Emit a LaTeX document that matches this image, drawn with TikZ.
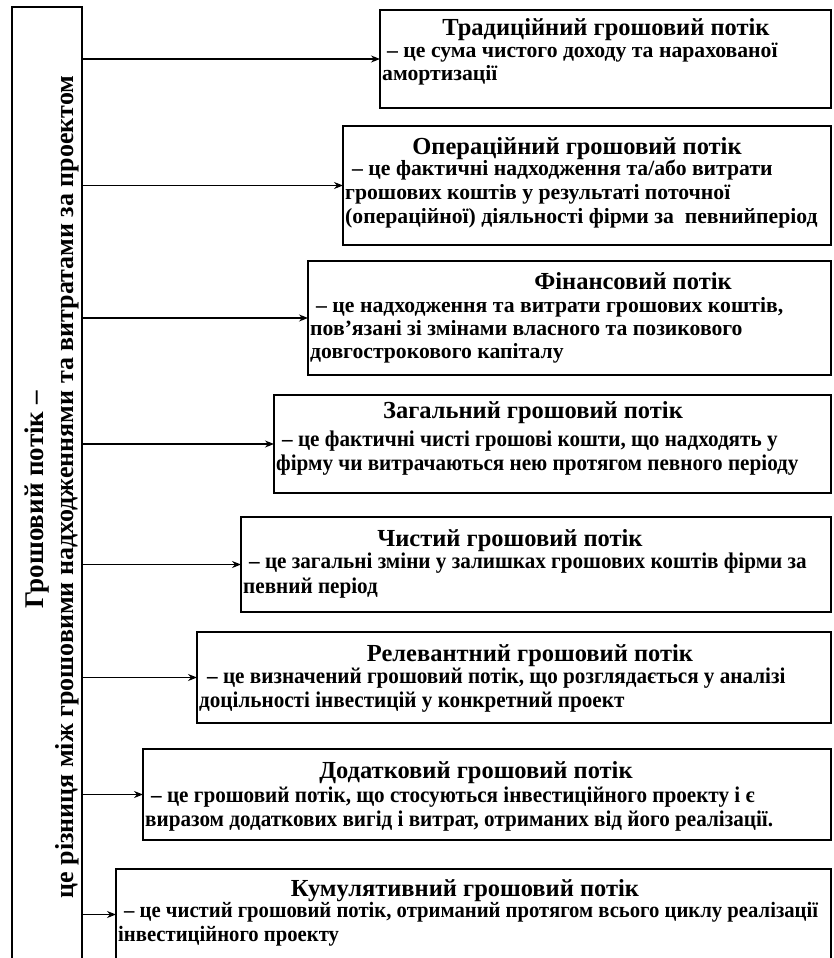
\documentclass[tikz,border=0pt]{standalone}
\usepackage{fontspec}
\setmainfont{Liberation Serif}
\newfontfamily\condfont[FakeStretch=0.94]{Liberation Serif}
\usetikzlibrary{arrows.meta}
% body text of a box: first baseline is the node's base
\newcommand\flowtext[1]{\parbox[t]{1000pt}{\raggedright #1}}
\begin{document}
\begin{tikzpicture}[x=1pt,y=-1pt,
  flowbox/.style={draw, line width=1.7pt, rectangle, anchor=north west,
    inner sep=0pt, outer sep=0pt},
  ttl/.style={font=\bfseries\fontsize{24.5}{26}\selectfont, inner sep=0pt, anchor=base},
  body/.style={font=\bfseries\fontsize{21.7}{24}\selectfont, inner sep=0pt, anchor=base west},
  cbody/.style={body, font=\condfont\bfseries\fontsize{22.5}{24}\selectfont},
  sidetext/.style={rotate=90, inner sep=0pt, anchor=base},
  link/.style={line width=1.2pt, -{Stealth[length=9pt,width=7pt]}}]
\clip (0,0) rectangle (834,958);
\fill[white] (0,0) rectangle (834,958);

% left column
\node[flowbox, line width=1.4pt, minimum width=70pt, minimum height=960pt] (col) at (12,7) {};
\node[sidetext, font=\bfseries\fontsize{27}{27}\selectfont] (c1) at (43,500) {Грошовий потік –};
\node[sidetext, font=\bfseries\fontsize{26}{26}\selectfont] (c2) at (73,487)
  {це різниця між грошовими надходженнями та витратами за проектом};

% boxes
\node[flowbox, minimum width=451pt, minimum height=98pt]  (b1) at (380,10)  {};
\node[flowbox, minimum width=488pt, minimum height=119pt] (b2) at (343,126) {};
\node[flowbox, minimum width=523pt, minimum height=114pt] (b3) at (308,261) {};
\node[flowbox, minimum width=557pt, minimum height=98pt]  (b4) at (274,395) {};
\node[flowbox, minimum width=590pt, minimum height=95pt]  (b5) at (241,517) {};
\node[flowbox, minimum width=634pt, minimum height=91pt]  (b6) at (197,632) {};
\node[flowbox, minimum width=688pt, minimum height=91pt]  (b7) at (143,749) {};
\node[flowbox, minimum width=715pt, minimum height=91pt]  (b8) at (116,869) {};

% titles
\node[ttl] (t1) at (606,36)  {Традиційний грошовий потік};
\node[ttl] (t2) at (577,154) {Операційний грошовий потік};
\node[ttl] (t3) at (633,289) {Фінансовий потік};
\node[ttl] (t4) at (533,418) {Загальний грошовий потік};
\node[ttl] (t5) at (510,546) {Чистий грошовий потік};
\node[ttl] (t6) at (530,661) {Релевантний грошовий потік};
\node[ttl] (t7) at (476,778) {Додатковий грошовий потік};
\node[ttl] (t8) at (465,896) {Кумулятивний грошовий потік};

% definitions
\node[body] (d1) at (382,57) {\flowtext{\hspace{5pt}– це сума чистого доходу та нарахованої\\амортизації}};
\node[body] (d2) at (345,175) {\flowtext{\hspace{7pt}– це фактичні надходження та/або витрати\\грошових коштів у результаті поточної\\(операційної) діяльності фірми за \ певнийперіод}};
\node[body, font=\bfseries\fontsize{21.7}{23}\selectfont] (d3) at (310,312) {\flowtext{\hspace{6pt}– це надходження та витрати грошових коштів,\\пов’язані зі змінами власного та позикового\\довгострокового капіталу}};
\node[cbody] (d4) at (276,446) {\flowtext{\hspace{6pt}– це фактичні чисті грошові кошти, що надходять у\\фірму чи витрачаються нею протягом певного періоду}};
\node[cbody, font=\condfont\bfseries\fontsize{22.5}{25}\selectfont] (d5) at (243,568) {\flowtext{\hspace{6pt}– це загальні зміни у залишках грошових коштів фірми за\\певний період}};
\node[cbody] (d6) at (199,683) {\flowtext{\hspace{8pt}– це визначений грошовий потік, що розглядається у аналізі\\доцільності інвестицій у конкретний проект}};
\node[cbody] (d7) at (145,802) {\flowtext{\hspace{6pt}– це грошовий потік, що стосуються інвестиційного проекту і є\\виразом додаткових вигід і витрат, отриманих від його реалізації.}};
\node[cbody, font=\condfont\bfseries\fontsize{22}{24}\selectfont] (d8) at (118,917) {\flowtext{\hspace{6pt}– це чистий грошовий потік, отриманий протягом всього циклу реалізації\\інвестиційного проекту}};

% connectors
\foreach \b in {b1,b2,b3,b4,b5,b6,b7,b8}
  \draw[link] (\b.west -| col.east) -- (\b.west);
\end{tikzpicture}
\end{document}
